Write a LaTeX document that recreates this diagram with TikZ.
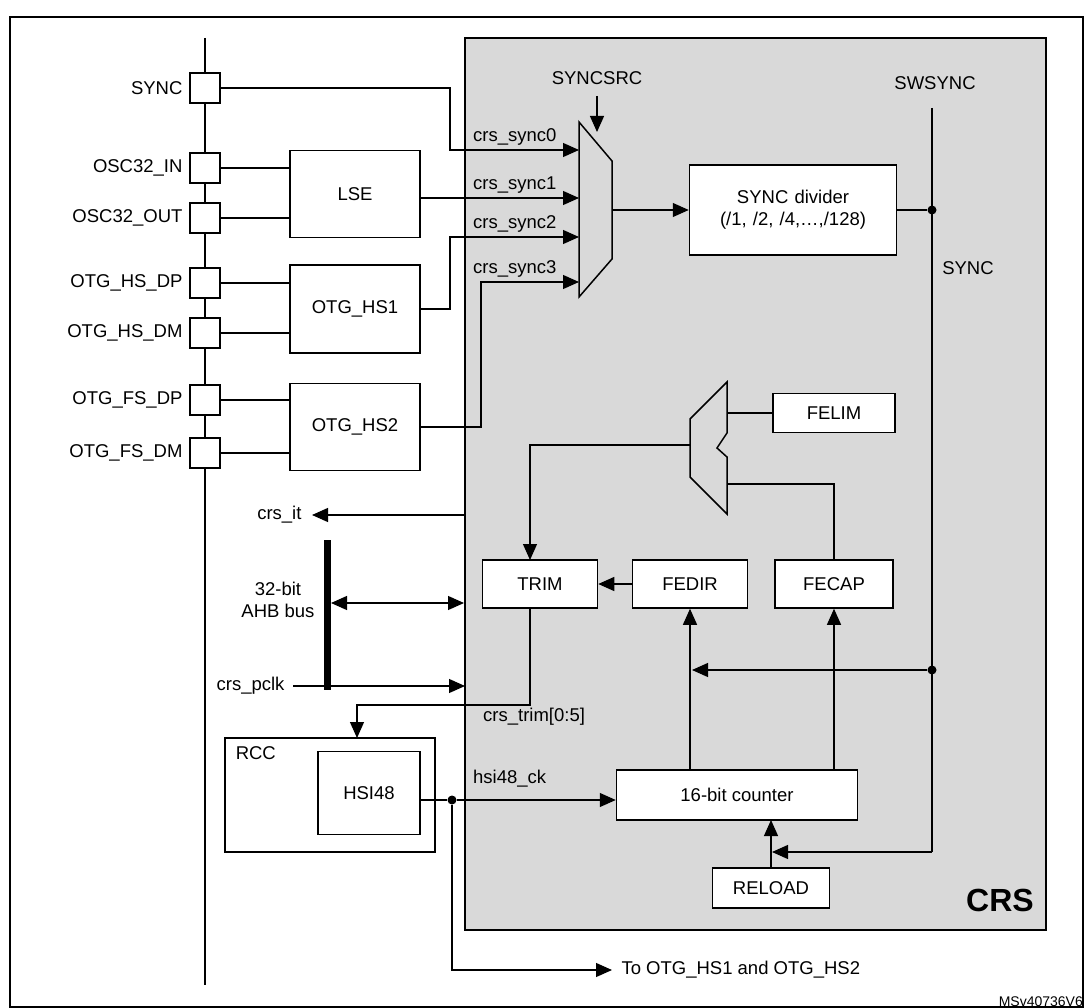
\documentclass[tikz,border=0pt]{standalone}
\usepackage{fontspec}
\setmainfont{Liberation Sans}
\usetikzlibrary{arrows.meta}
\begin{document}
\begin{tikzpicture}[x=1pt,y=-1pt,
  every node/.style={font=\fontsize{18.5}{22}\selectfont},
  box/.style={draw,line width=1.5pt,fill=white},
  pin/.style={draw,line width=1.3pt,fill=white,minimum width=30pt,minimum height=30pt,inner sep=0pt},
  ln/.style={line width=1.2pt},
  arr/.style={ln,-{Triangle[length=16pt,width=14pt]}},
  dot/.style={circle,fill,inner sep=0pt,minimum size=9pt}]
\useasboundingbox (0,0) rectangle (1084,1008);
\draw[line width=1.5pt] (10,17) rectangle (1083,1007);
\fill[fill=black!15] (465,38) rectangle (1046,930);
\draw[line width=2.2pt] (465,38) rectangle (1046,930);
\node[font=\fontsize{32}{36}\selectfont\bfseries] (crs) at (1000,900) {CRS};
% bus line
\coordinate (bt) at (205,38); \coordinate (bb) at (205,985);
\draw[ln] (bt) -- (bb);
% pins
\foreach \n/\y/\t in {ps/88/SYNC,pi/168/OSC32\_IN,po/218/OSC32\_OUT,hp/283/OTG\_HS\_DP,hm/333/OTG\_HS\_DM,fp/400/OTG\_FS\_DP,fm/453/OTG\_FS\_DM}{
  \node[pin] (\n) at (205,\y) {};
  \node[anchor=east] at (186,\y) {\t};
}
% boxes
\node[box,minimum width=130pt,minimum height=87pt] (lse) at (355,194) {LSE};
\node[box,minimum width=130pt,minimum height=88pt] (hs1) at (355,309) {OTG\_HS1};
\node[box,minimum width=130pt,minimum height=87pt] (hs2) at (355,427) {OTG\_HS2};
\draw[ln] (pi.east) -- (pi.east -| lse.west);
\draw[ln] (po.east) -- (po.east -| lse.west);
\draw[ln] (hp.east) -- (hp.east -| hs1.west);
\draw[ln] (hm.east) -- (hm.east -| hs1.west);
\draw[ln] (fp.east) -- (fp.east -| hs2.west);
\draw[ln] (fm.east) -- (fm.east -| hs2.west);
% mux 1
\draw[line width=1.5pt,fill=black!15] (579,122) -- (612,161) -- (612,259) -- (579,297) -- cycle;
\coordinate (m0) at (579,150); \coordinate (m1) at (579,198);
\coordinate (m2) at (579,237); \coordinate (m3) at (579,282);
\draw[arr] (ps.east) -- (450,88) -- (450,150) -- (m0);
\draw[arr] (lse.east |- m1) -- (m1);
\draw[arr] (hs1.east) -- (450,309) -- (450,237) -- (m2);
\draw[arr] (hs2.east) -- (481,427) -- (481,282) -- (m3);
\foreach \y/\t in {150/0,198/1,237/2,282/3}
  \node[anchor=south west,inner sep=1pt] at (472,\y-3) {crs\_sync\t};
\node (ssrc) at (597,78) {SYNCSRC};
\coordinate (mt) at (597,132);
\draw[arr] (597,96) -- (mt);
\node[box,minimum width=207pt,minimum height=90pt,align=center,text width=200pt] (div) at (793,210) {SYNC divider\\(/1, /2, /4,\dots,/128)};
\draw[arr] (612,210) -- (div.west);
\node (sw) at (935,83) {SWSYNC};
\node (syl) at (968,268) {SYNC};
\node[dot] (d1) at (932,210) {};
\node[dot] (d2) at (932,670) {};
\coordinate (swt) at (932,108); \coordinate (swb) at (932,852);
\draw[ln] (swt) -- (swb);
\draw[ln] (div.east) -- (d1);
% mux 2
\draw[line width=1.5pt,fill=black!15] (690,419) -- (727,382) -- (727,433) -- (717,448) -- (727,457) -- (727,514) -- (690,477) -- cycle;
\node[box,minimum width=122pt,minimum height=39pt] (felim) at (834,413) {FELIM};
\node[box,minimum width=115pt,minimum height=48pt] (trim) at (540,584) {TRIM};
\node[box,minimum width=115pt,minimum height=48pt] (fedir) at (690,584) {FEDIR};
\node[box,minimum width=118pt,minimum height=48pt] (fecap) at (834,584) {FECAP};
\draw[ln] (727,413) -- (felim.west);
\draw[ln] (fecap.north) -- (834,484) -- (727,484);
\draw[arr] (690,445) -- (530,445) -- (530,560);
\draw[arr] (fedir.west) -- (trim.east);
\node[box,minimum width=241pt,minimum height=50pt] (cnt) at (737,795) {16-bit counter};
\node[box,minimum width=117pt,minimum height=40pt] (rel) at (771,888) {RELOAD};
\draw[arr] (690,770) -- (fedir.south);
\draw[arr] (834,770) -- (fecap.south);
\draw[arr] (d2) -- (692,670);
\draw[arr] (swb) -- (772,852);
\draw[arr] (rel.north) -- (771,820);
% RCC
\node[box,minimum width=210pt,minimum height=114pt] (rcc) at (330,795) {};
\node[anchor=north west] at ([xshift=8pt,yshift=-6pt]rcc.north west) {RCC};
\node[box,minimum width=102pt,minimum height=83pt] (hsi) at (369,793) {HSI48};
\draw[arr] (530,608) -- (530,705) -- (357,705) -- (357,738);
\node[anchor=north west,inner sep=1pt] at (482,707) {crs\_trim[0:5]};
\node[dot] (d3) at (452,800) {};
\draw[ln] (hsi.east |- d3) -- (d3);
\draw[arr] (d3) -- (cnt.west |- d3);
\node[anchor=south west,inner sep=1pt] at (472,788) {hsi48\_ck};
\coordinate (to) at (612,970);
\draw[arr] (d3) -- (452,970) -- (to);
\node[anchor=west] at (618,970) {To OTG\_HS1 and OTG\_HS2};
% left signals
\coordinate (itl) at (312,515);
\draw[arr] (465,515) -- (itl);
\node[anchor=east] at (305,515) {crs\_it};
\coordinate (ab1) at (327,540); \coordinate (ab2) at (327,690);
\draw[line width=7pt] (ab1) -- (ab2);
\draw[ln,{Triangle[length=16pt,width=14pt]}-{Triangle[length=16pt,width=14pt]}] (331,603) -- (464,603);
\node[anchor=east,align=center] at (318,600) {32-bit\\AHB bus};
\coordinate (pc) at (293,686);
\draw[arr] (pc) -- (465,686);
\node[anchor=east] at (288,686) {crs\_pclk};
\node[anchor=south east,font=\fontsize{14}{16}\selectfont,inner sep=1pt] at (1084,1008) {MSv40736V6};
\end{tikzpicture}
\end{document}
